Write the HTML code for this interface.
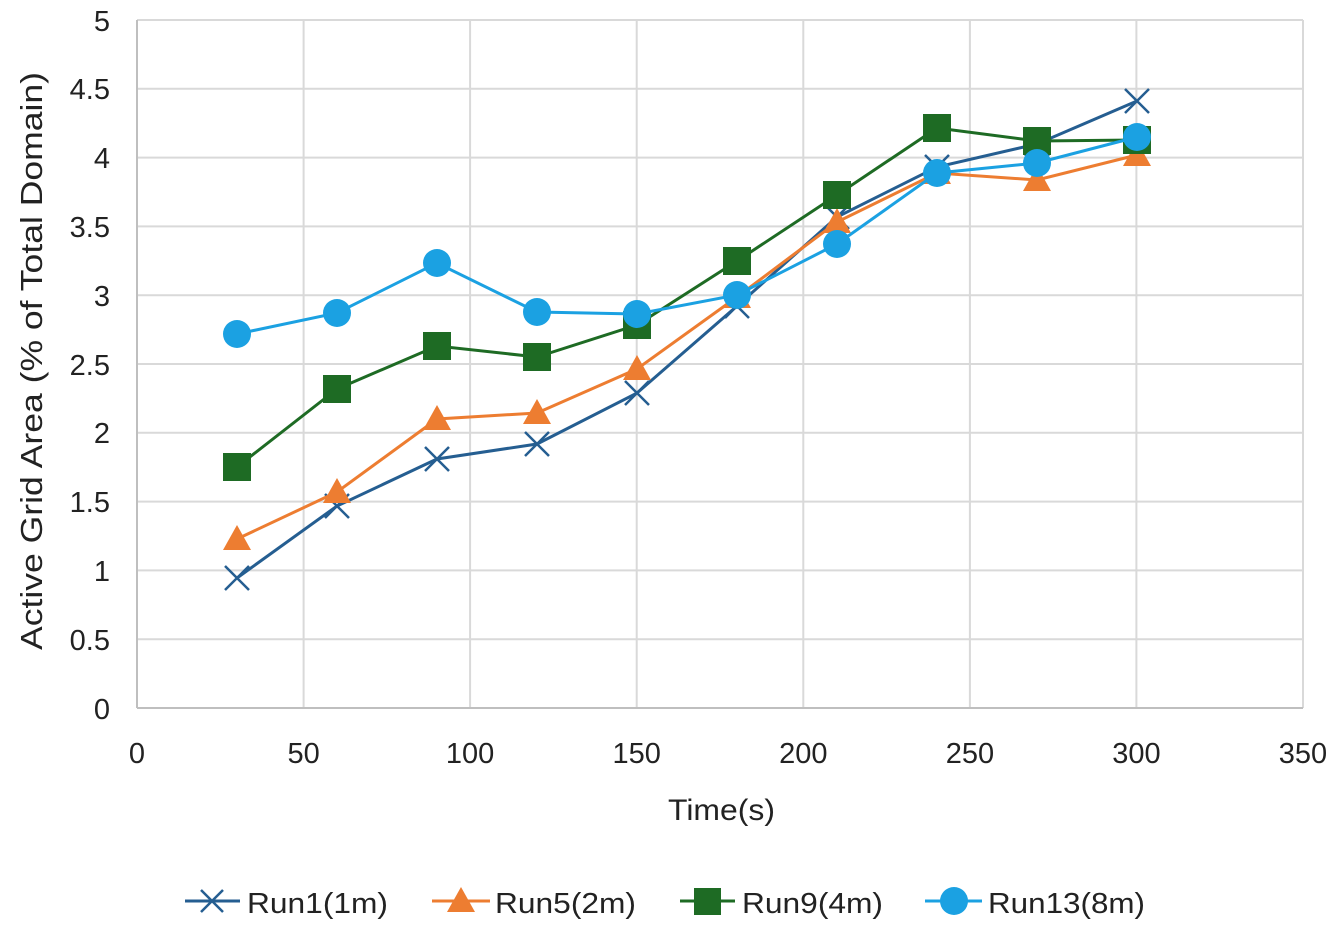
<!DOCTYPE html>
<html><head><meta charset="utf-8"><style>
body{margin:0;background:#fff;}
svg text{font-family:"Liberation Sans",sans-serif;fill:#222;}
</style></head><body>
<svg width="1332" height="924" xmlns="http://www.w3.org/2000/svg">
<g stroke="#d9d9d9" stroke-width="2" fill="none">
<line x1="137" y1="20" x2="1303" y2="20"/><line x1="137" y1="88.8" x2="1303" y2="88.8"/><line x1="137" y1="157.6" x2="1303" y2="157.6"/><line x1="137" y1="226.4" x2="1303" y2="226.4"/><line x1="137" y1="295.2" x2="1303" y2="295.2"/><line x1="137" y1="364" x2="1303" y2="364"/><line x1="137" y1="432.8" x2="1303" y2="432.8"/><line x1="137" y1="501.6" x2="1303" y2="501.6"/><line x1="137" y1="570.4" x2="1303" y2="570.4"/><line x1="137" y1="639.2" x2="1303" y2="639.2"/>
<line x1="303.6" y1="20" x2="303.6" y2="708"/><line x1="470.1" y1="20" x2="470.1" y2="708"/><line x1="636.7" y1="20" x2="636.7" y2="708"/><line x1="803.3" y1="20" x2="803.3" y2="708"/><line x1="969.9" y1="20" x2="969.9" y2="708"/><line x1="1136.4" y1="20" x2="1136.4" y2="708"/><line x1="1303" y1="20" x2="1303" y2="708"/>
</g>
<line x1="137" y1="20" x2="137" y2="708" stroke="#bfbfbf" stroke-width="2"/>
<line x1="137" y1="708" x2="1303" y2="708" stroke="#bfbfbf" stroke-width="2"/>
<g font-size="29" text-anchor="end">
<text x="110" y="31">5</text><text x="110" y="99">4.5</text><text x="110" y="168">4</text><text x="110" y="237">3.5</text><text x="110" y="306">3</text><text x="110" y="375">2.5</text><text x="110" y="443">2</text><text x="110" y="512">1.5</text><text x="110" y="581">1</text><text x="110" y="650">0.5</text><text x="110" y="719">0</text>
</g>
<g font-size="29" text-anchor="middle">
<text x="137" y="763">0</text><text x="303.6" y="763">50</text><text x="470.1" y="763">100</text><text x="636.7" y="763">150</text><text x="803.3" y="763">200</text><text x="969.9" y="763">250</text><text x="1136.4" y="763">300</text><text x="1303" y="763">350</text>
</g>
<text x="668" y="820" font-size="30" textLength="107" lengthAdjust="spacingAndGlyphs">Time(s)</text>
<text transform="translate(42,650) rotate(-90)" font-size="31" textLength="578" lengthAdjust="spacingAndGlyphs">Active Grid Area (% of Total Domain)</text>
<!-- Run1 -->
<polyline fill="none" stroke="#255e91" stroke-width="3" points="237,578 337,506 437,459 537,444 637,393 737,306 837,217 937,167 1037,144 1137,101"/>
<g stroke="#255e91" stroke-width="2.5">
<path d="M225,566l24,24M249,566l-24,24M325,494l24,24M349,494l-24,24M425,447l24,24M449,447l-24,24M525,432l24,24M549,432l-24,24M625,381l24,24M649,381l-24,24M725,294l24,24M749,294l-24,24M825,205l24,24M849,205l-24,24M925,155l24,24M949,155l-24,24M1025,132l24,24M1049,132l-24,24M1125,89l24,24M1149,89l-24,24"/>
</g>
<!-- Run5 -->
<polyline fill="none" stroke="#ed7d31" stroke-width="3" points="237,539 337,492 437,419 537,413 637,369 737,297 837,222 937,173 1037,180 1137,155"/>
<g fill="#ed7d31">
<path d="M237,525l14,25h-28z"/><path d="M337,478l14,25h-28z"/><path d="M437,405l14,25h-28z"/><path d="M537,399l14,25h-28z"/><path d="M637,355l14,25h-28z"/><path d="M737,283l14,25h-28z"/><path d="M837,208l14,25h-28z"/><path d="M937,159l14,25h-28z"/><path d="M1037,166l14,25h-28z"/><path d="M1137,141l14,25h-28z"/>
</g>
<!-- Run9 -->
<polyline fill="none" stroke="#1e6b24" stroke-width="3" points="237,467 337,389 437,346 537,357 637,325 737,261 837,195 937,128 1037,141 1137,140"/>
<g fill="#1e6b24">
<rect x="223" y="453" width="28" height="28"/><rect x="323" y="375" width="28" height="28"/><rect x="423" y="332" width="28" height="28"/><rect x="523" y="343" width="28" height="28"/><rect x="623" y="311" width="28" height="28"/><rect x="723" y="247" width="28" height="28"/><rect x="823" y="181" width="28" height="28"/><rect x="923" y="114" width="28" height="28"/><rect x="1023" y="127" width="28" height="28"/><rect x="1123" y="126" width="28" height="28"/>
</g>
<!-- Run13 -->
<polyline fill="none" stroke="#1ba1e2" stroke-width="3" points="237,334 337,313 437,263 537,312 637,314 737,295 837,244 937,173 1037,163 1137,137"/>
<g fill="#1ba1e2">
<circle cx="237" cy="334" r="14"/><circle cx="337" cy="313" r="14"/><circle cx="437" cy="263" r="14"/><circle cx="537" cy="312" r="14"/><circle cx="637" cy="314" r="14"/><circle cx="737" cy="295" r="14"/><circle cx="837" cy="244" r="14"/><circle cx="937" cy="173" r="14"/><circle cx="1037" cy="163" r="14"/><circle cx="1137" cy="137" r="14"/>
</g>
<!-- Legend -->
<g font-size="29">
<line x1="185" y1="901" x2="240" y2="901" stroke="#255e91" stroke-width="3"/>
<path d="M201,890l22,22M223,890l-22,22" stroke="#255e91" stroke-width="2.5"/>
<text x="247" y="913" textLength="141" lengthAdjust="spacingAndGlyphs">Run1(1m)</text>
<line x1="432" y1="901" x2="490" y2="901" stroke="#ed7d31" stroke-width="3"/>
<path d="M461,887l14,25h-28z" fill="#ed7d31"/>
<text x="495" y="913" textLength="141" lengthAdjust="spacingAndGlyphs">Run5(2m)</text>
<line x1="680" y1="901" x2="735" y2="901" stroke="#1e6b24" stroke-width="3"/>
<rect x="694" y="888" width="27" height="27" fill="#1e6b24"/>
<text x="742" y="913" textLength="141" lengthAdjust="spacingAndGlyphs">Run9(4m)</text>
<line x1="925" y1="901" x2="982" y2="901" stroke="#1ba1e2" stroke-width="3"/>
<circle cx="954" cy="901" r="14" fill="#1ba1e2"/>
<text x="988" y="913" textLength="157" lengthAdjust="spacingAndGlyphs">Run13(8m)</text>
</g>
</svg>
</body></html>
